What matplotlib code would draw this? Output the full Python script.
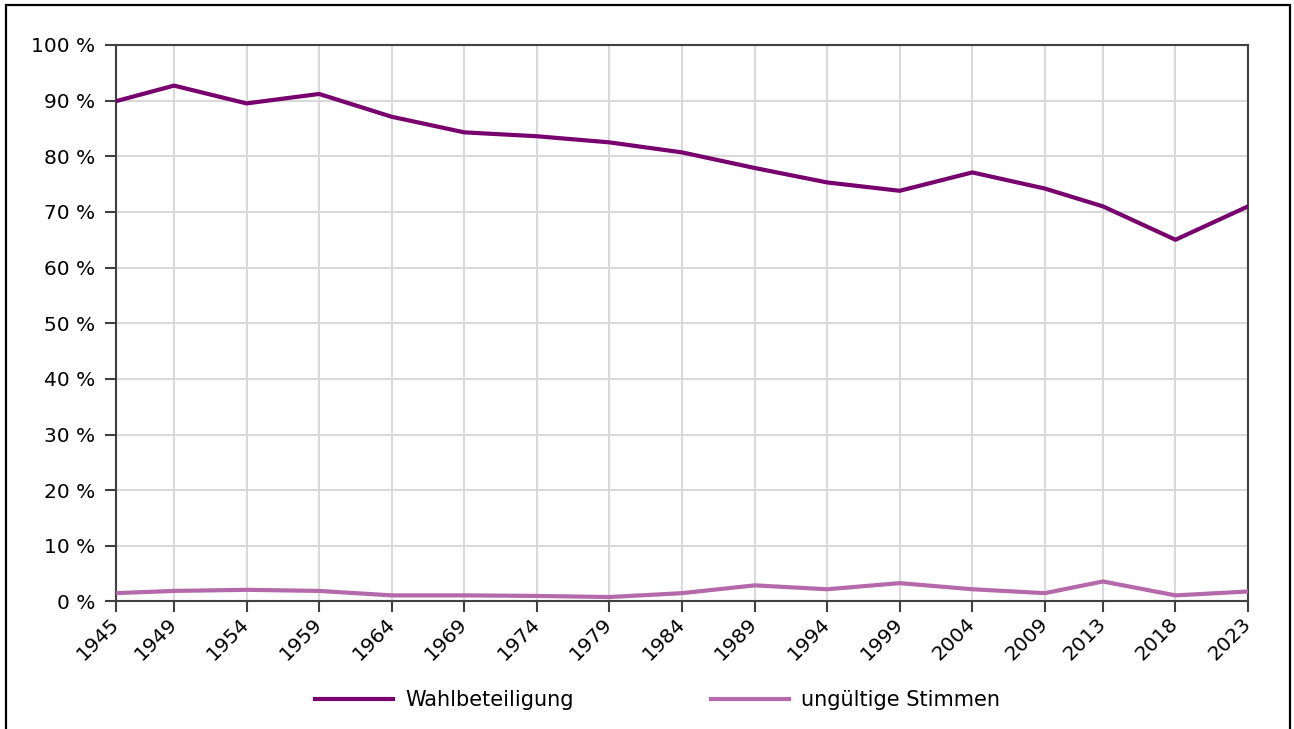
import matplotlib
matplotlib.use("Agg")
from matplotlib import pyplot as plt
from matplotlib.patches import Rectangle

years = [1945, 1949, 1954, 1959, 1964, 1969, 1974, 1979, 1984,
         1989, 1994, 1999, 2004, 2009, 2013, 2018, 2023]
wahlbeteiligung = [89.9, 92.7, 89.5, 91.2, 87.1, 84.3, 83.6, 82.5, 80.7,
                   77.9, 75.3, 73.8, 77.1, 74.2, 71.0, 65.0, 71.0]
ungueltig = [1.5, 1.9, 2.1, 1.9, 1.1, 1.1, 1.0, 0.8, 1.5,
             2.9, 2.2, 3.3, 2.2, 1.5, 3.6, 1.1, 1.8]
y_ticks = list(range(0, 101, 10))
series_labels = ["Wahlbeteiligung", "ungültige Stimmen"]

DARK = "#78006e"
LIGHT = "#b46aaa"
AXIS = "#404040"
GRID = "#d9d9d9"

plt.rc('font', family=['DejaVu Sans'], size=14)

fig = plt.figure(figsize=(12.94, 7.29), dpi=100)
ax = fig.add_axes([0.0896, 0.1749, 0.9645 - 0.0896, 0.9383 - 0.1749])

ax.plot(years, wahlbeteiligung, color=DARK, lw=3, label=series_labels[0], zorder=3)
ax.plot(years, ungueltig, color=LIGHT, lw=3, label=series_labels[1], zorder=3)

ax.set_xlim(years[0], years[-1])
ax.set_ylim(0, 100)
ax.set_xticks(years)
ax.set_xticklabels([str(y) for y in years], rotation=45, ha='right',
                   va='center', rotation_mode='anchor', fontsize=14.5)
ax.set_yticks(y_ticks)
ax.set_yticklabels([f"{v} %" for v in y_ticks], fontsize=14.5)

ax.grid(True, color=GRID, lw=1.5, zorder=0)
ax.set_axisbelow(True)
for s in ax.spines.values():
    s.set_color(AXIS)
    s.set_linewidth(1.5)
ax.tick_params(axis='both', color=AXIS, width=1.5, length=8)
ax.tick_params(axis='y', pad=7)
ax.tick_params(axis='x', pad=6)

fig.legend(loc='center', bbox_to_anchor=(0.508, 1 - 700 / 729), ncol=2,
           frameon=False, fontsize=15, handlelength=3.75, handletextpad=0.58,
           columnspacing=6.6)

fig.patches.append(Rectangle((6 / 1294, -0.05), (1290 - 6) / 1294, 1.05 - 5 / 729,
                             transform=fig.transFigure, fill=False,
                             edgecolor='black', lw=1.6))

fig.savefig("out.png", dpi=100)
